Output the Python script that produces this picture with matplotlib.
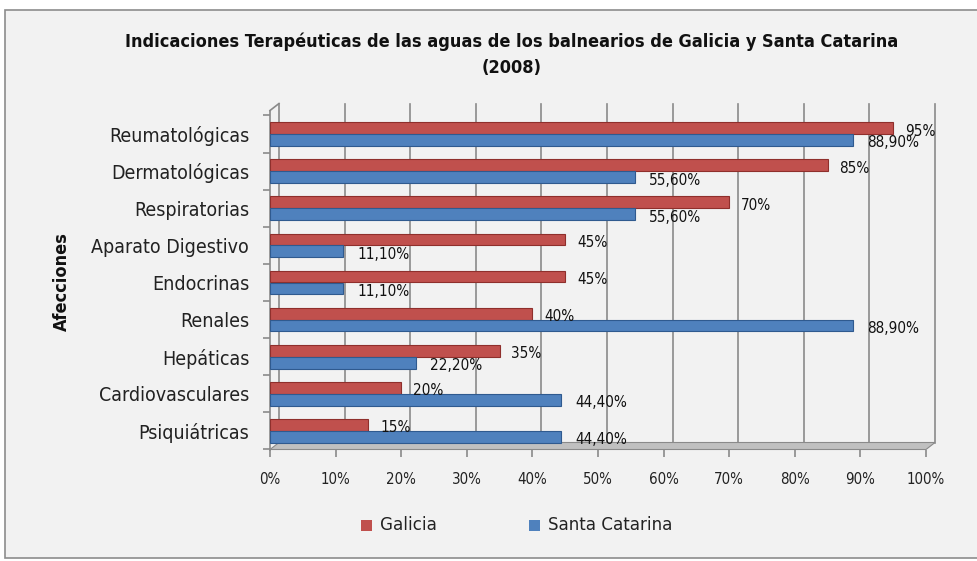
import matplotlib
matplotlib.use("Agg")
import matplotlib.pyplot as plt
from matplotlib.patches import Rectangle, Polygon
from matplotlib.lines import Line2D
import numpy as np

categories = ["Reumatológicas", "Dermatológicas", "Respiratorias", "Aparato Digestivo",
              "Endocrinas", "Renales", "Hepáticas", "Cardiovasculares", "Psiquiátricas"]
galicia = [95, 85, 70, 45, 45, 40, 35, 20, 15]
santa_catarina = [88.9, 55.6, 55.6, 11.1, 11.1, 88.9, 22.2, 44.4, 44.4]
galicia_labels = ["95%", "85%", "70%", "45%", "45%", "40%", "35%", "20%", "15%"]
sc_labels = ["88,90%", "55,60%", "55,60%", "11,10%", "11,10%", "88,90%", "22,20%", "44,40%", "44,40%"]
xticks = list(range(0, 101, 10))
xtick_labels = [f"{v}%" for v in xticks]

plt.rcParams['font.family'] = ['DejaVu Sans']
plt.rcParams['font.stretch'] = 'condensed'

W, H = 978, 561
fig = plt.figure(figsize=(W / 100, H / 100), dpi=100, facecolor="white")
fig.patches.append(Rectangle((5 / W, 3 / H), 1.2, (H - 13) / H, transform=fig.transFigure,
                             facecolor="#f2f2f2", edgecolor="#8c8c8c", lw=1.2, zorder=-10))

top, bot = 115.5, 449.5
left, right = 270, 926
ax = fig.add_axes([left / W, 1 - bot / H, (right - left) / W, (bot - top) / H])
ax.set_facecolor("none")
dx = 9 / (right - left)
dy = 7 / (bot - top)
ext = 12 / (bot - top)

red = "#C0504D"
blue = "#4F81BD"
y = np.arange(len(categories))
h = 0.32
ax.barh(y - h / 2, galicia, height=h, color=red, edgecolor="#8f2f2c", lw=0.8, zorder=3)
ax.barh(y + h / 2, santa_catarina, height=h, color=blue, edgecolor="#2f5a8f", lw=0.8, zorder=3)

for yi, v, lab in zip(y, galicia, galicia_labels):
    ax.text(v + 1.8, yi - h / 2 + 0.08, lab, va="center", ha="left", fontsize=11, color="#111111", zorder=4)
for yi, v, lab in zip(y, santa_catarina, sc_labels):
    ax.text(v + 2.2, yi + h / 2 + 0.08, lab, va="center", ha="left", fontsize=11, color="#111111", zorder=4)

ax.set_xlim(0, 100)
ax.set_ylim(len(categories) - 0.5, -0.5)
ax.set_xticks(xticks)
ax.set_xticklabels(xtick_labels, fontsize=10.8, color="#222222")
ax.set_yticks(y)
ax.set_yticklabels(categories, fontsize=14, color="#222222")
ax.tick_params(axis="y", length=0, pad=15)
ax.tick_params(axis="x", length=5, width=1.2, color="#8a8a8a", direction="out", pad=11)
ax.set_yticks(np.arange(-0.5, len(categories), 1), minor=True)
ax.tick_params(axis="y", which="minor", length=5, width=1.2, color="#8a8a8a", direction="out")
for s in ["top", "right", "bottom", "left"]:
    ax.spines[s].set_visible(False)

gc = "#8a8a8a"
# back-wall gridlines (depth offset)
for v in xticks:
    xa = v / 100 + dx
    ax.add_line(Line2D([xa, xa], [dy, 1 + ext], transform=ax.transAxes, color=gc, lw=1.2,
                       zorder=1, clip_on=False))
# left wall front edge and top diagonal
ax.add_line(Line2D([0, 0], [0, 1 + ext - dy], transform=ax.transAxes, color=gc, lw=1.2, zorder=2, clip_on=False))
ax.add_line(Line2D([0, dx], [1 + ext - dy, 1 + ext], transform=ax.transAxes, color=gc, lw=1.2, zorder=2, clip_on=False))
# floor
ax.add_patch(Polygon([(0, 0), (1.0, 0), (1.0 + dx, dy), (dx, dy)], closed=True,
                     transform=ax.transAxes, facecolor="#c0c0c0", edgecolor=gc,
                     lw=0.8, clip_on=False, zorder=2))

fig.text(62 / W, 1 - 282 / H, "Afecciones", rotation=90, ha="center", va="center",
         fontsize=13, fontweight="bold", color="#111111")

fig.text(0.523, 1 - 42 / H, "Indicaciones Terapéuticas de las aguas de los balnearios de Galicia y Santa Catarina",
         ha="center", va="center", fontsize=13, fontweight="bold", color="#111111")
fig.text(0.523, 1 - 68 / H, "(2008)", ha="center", va="center", fontsize=13, fontweight="bold", color="#111111")

# legend
lx = [361, 529]
names = ["Galicia", "Santa Catarina"]
cols = [red, blue]
for x0, n, c in zip(lx, names, cols):
    fig.patches.append(Rectangle((x0 / W, 1 - 531 / H), 11 / W, 11 / H, transform=fig.transFigure,
                                 facecolor=c, edgecolor="none"))
    fig.text((x0 + 19) / W, 1 - 525 / H, n, ha="left", va="center", fontsize=13.3, color="#222222")

fig.savefig("out.png", dpi=100, facecolor="white")
